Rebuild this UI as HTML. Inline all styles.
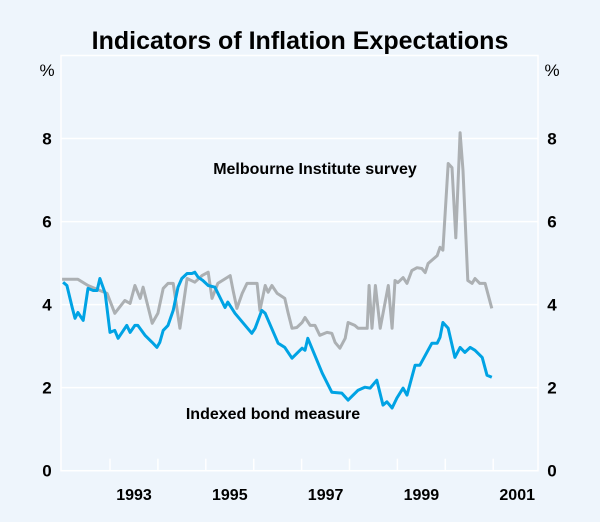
<!DOCTYPE html>
<html><head><meta charset="utf-8"><style>
body{margin:0;background:#eef5fc;}
svg{display:block;font-family:"Liberation Sans",Arial,sans-serif;}
</style></head><body>
<svg id="chart" width="600" height="522" viewBox="0 0 600 522">
<rect x="0" y="0" width="600" height="522" fill="#eef5fc"/>
<text x="300" y="49" text-anchor="middle" font-size="25" font-weight="bold" fill="#000">Indicators of Inflation Expectations</text>
<g id="grid"></g>
<g id="axes"></g>
<g id="series"></g>
<text x="315" y="174" text-anchor="middle" font-size="16" font-weight="bold">Melbourne Institute survey</text>
<text x="273" y="419" text-anchor="middle" font-size="16" font-weight="bold">Indexed bond measure</text>
</svg>
<script>
const yTicks=[0,2,4,6,8];
const xLabels=["1993","1995","1997","1999","2001"];
const bondDates=[1992.02,1992.10,1992.21,1992.27,1992.33,1992.44,1992.54,1992.65,1992.73,1992.79,1992.90,1993.00,1993.10,1993.17,1993.35,1993.42,1993.52,1993.58,1993.73,1993.88,1993.98,1994.04,1994.11,1994.21,1994.32,1994.42,1994.50,1994.61,1994.71,1994.77,1994.84,1994.94,1995.05,1995.19,1995.40,1995.46,1995.61,1995.96,1996.03,1996.17,1996.24,1996.51,1996.65,1996.80,1997.01,1997.07,1997.13,1997.43,1997.63,1997.84,1997.97,1998.18,1998.32,1998.43,1998.57,1998.70,1998.78,1998.89,1998.99,1999.12,1999.20,1999.37,1999.47,1999.72,1999.83,1999.89,1999.95,2000.06,2000.20,2000.31,2000.41,2000.52,2000.62,2000.77,2000.87,2000.97];
const bondValues=[4.54,4.46,3.93,3.67,3.81,3.62,4.39,4.34,4.34,4.63,4.27,3.33,3.38,3.19,3.50,3.33,3.50,3.50,3.26,3.09,2.97,3.09,3.38,3.50,3.86,4.42,4.63,4.75,4.75,4.78,4.66,4.58,4.46,4.42,3.93,4.06,3.79,3.31,3.43,3.86,3.79,3.07,2.97,2.71,2.95,2.90,3.19,2.35,1.89,1.87,1.70,1.94,2.01,1.99,2.18,1.58,1.66,1.51,1.75,1.99,1.82,2.54,2.54,3.07,3.07,3.21,3.57,3.43,2.73,2.97,2.85,2.97,2.90,2.73,2.30,2.25];
const surveyDates=[1992.00,1992.33,1992.54,1992.79,1992.94,1993.10,1993.31,1993.42,1993.52,1993.63,1993.69,1993.88,1994.00,1994.11,1994.21,1994.32,1994.46,1994.61,1994.77,1994.92,1995.05,1995.13,1995.25,1995.51,1995.57,1995.65,1995.76,1995.86,1996.07,1996.13,1996.24,1996.30,1996.38,1996.49,1996.65,1996.72,1996.80,1996.90,1997.01,1997.07,1997.18,1997.28,1997.38,1997.53,1997.63,1997.70,1997.80,1997.91,1997.97,1998.11,1998.18,1998.37,1998.41,1998.47,1998.54,1998.64,1998.81,1998.89,1998.95,1999.01,1999.12,1999.20,1999.30,1999.41,1999.51,1999.58,1999.64,1999.83,1999.89,1999.95,2000.06,2000.14,2000.22,2000.31,2000.37,2000.47,2000.56,2000.62,2000.72,2000.83,2000.97];
const surveyValues=[4.61,4.61,4.46,4.34,4.27,3.79,4.10,4.03,4.46,4.15,4.42,3.55,3.79,4.39,4.51,4.51,3.43,4.63,4.54,4.70,4.78,4.15,4.51,4.70,4.34,3.91,4.27,4.51,4.51,3.86,4.46,4.30,4.46,4.27,4.15,3.79,3.43,3.45,3.57,3.69,3.50,3.50,3.26,3.33,3.31,3.09,2.95,3.19,3.57,3.50,3.43,3.43,4.46,3.43,4.46,3.43,4.46,3.43,4.58,4.53,4.65,4.51,4.82,4.89,4.87,4.77,4.99,5.18,5.38,5.31,7.40,7.30,5.61,8.14,7.23,4.58,4.51,4.63,4.51,4.51,3.91];
const L=61,R=538,T=55.5,B=470.7;
const x=d=>110+(d-1993)*47.9;
const y=v=>B-(v/10)*(B-T);
const NS="http://www.w3.org/2000/svg";
function mk(tag,attrs,parent){const e=document.createElementNS(NS,tag);for(const k in attrs)e.setAttribute(k,attrs[k]);parent.appendChild(e);return e;}
const grid=document.getElementById('grid'),axes=document.getElementById('axes'),series=document.getElementById('series');
const frame=mk('rect',{x:L,y:T,width:R-L,height:B-T,fill:'none',stroke:'#fff','stroke-width':1.5},grid);


yTicks.forEach(v=>{
  const g=mk('line',{x1:L,x2:R,y1:y(v),y2:y(v),stroke:'#fff','stroke-width':1.5},grid);
  
  
  const tl=mk('text',{x:47,y:y(v)+6,'text-anchor':'middle','font-size':17,'font-weight':'bold'},axes);tl.textContent=v;
  
  
  const tr=mk('text',{x:552,y:y(v)+6,'text-anchor':'middle','font-size':17,'font-weight':'bold'},axes);tr.textContent=v;
  
  
});
const pl=mk('text',{x:47,y:76,'text-anchor':'middle','font-size':17},axes);pl.textContent='%';


const pr=mk('text',{x:552,y:76,'text-anchor':'middle','font-size':17},axes);pr.textContent='%';


for(let yr=1993;yr<=2001;yr++){
  const t=mk('line',{x1:x(yr),x2:x(yr),y1:B,y2:B-12,stroke:'#fff','stroke-width':1.5},axes);
  
  
}
xLabels.forEach(lbl=>{
  const yr=+lbl;
  const t=mk('text',{x:x(yr)+24,y:500,'text-anchor':'middle','font-size':16,'font-weight':'bold'},axes);t.textContent=lbl;
  
  
});
function line(dates,vals,color,name){
  const p=mk('polyline',{points:dates.map((d,i)=>x(d).toFixed(1)+','+y(vals[i]).toFixed(1)).join(' '),fill:'none',stroke:color,'stroke-width':3,'stroke-linejoin':'round'},series);
  
  
}
line(surveyDates,surveyValues,'#acb0b3','melbourne-institute-line');
line(bondDates,bondValues,'#00a3e4','indexed-bond-line');
</script>
</body></html>
